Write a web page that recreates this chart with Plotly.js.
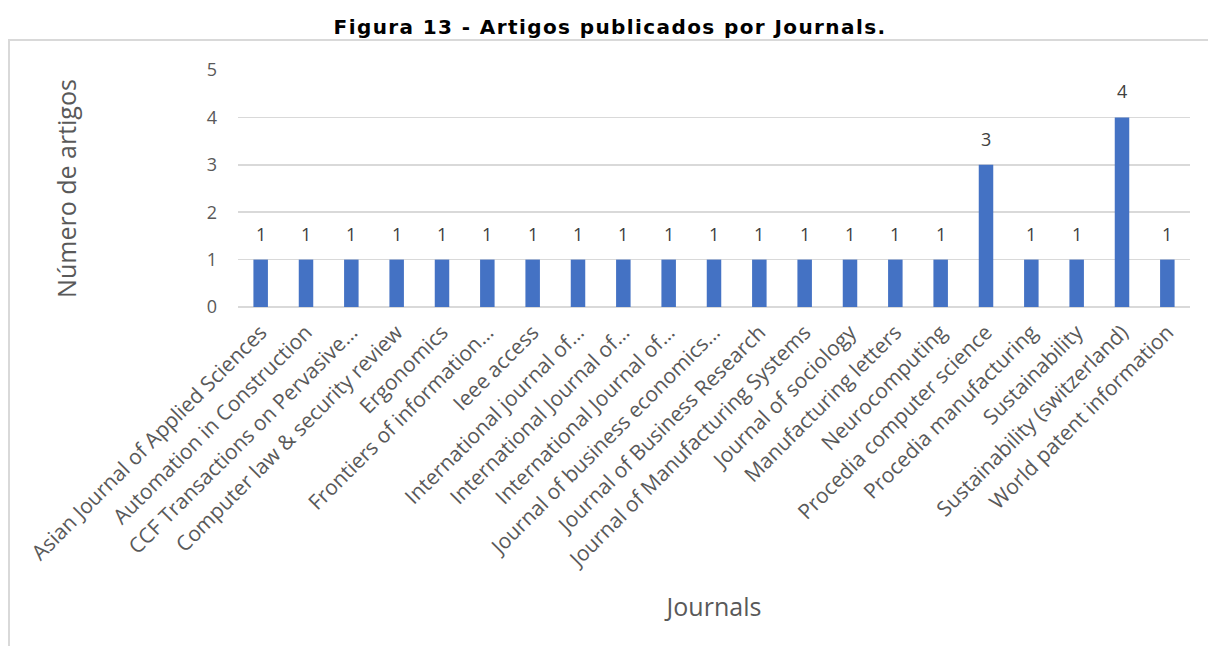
<!DOCTYPE html>
<html>
<head>
<meta charset="utf-8">
<script src="https://cdn.plot.ly/plotly-3.0.1.min.js"></script>
<style>
  html, body { margin: 0; padding: 0; background: #ffffff; }
  #wrap { position: relative; width: 1208px; height: 646px; overflow: hidden; }
  #chart { width: 1208px; height: 646px; }
  #frame { position: absolute; left: 8px; top: 39px; width: 1220px; height: 640px;
           border: 2px solid #d9d9d9; pointer-events: none; box-sizing: border-box; }
  .gtitle { letter-spacing: 1.4px; }
</style>
</head>
<body>
<div id="wrap">
  <div id="chart"></div>
  <div id="frame"></div>
</div>
<script>
const journals = [
  "Asian Journal of Applied Sciences",
  "Automation in Construction",
  "CCF Transactions on Pervasive…",
  "Computer law & security review",
  "Ergonomics",
  "Frontiers of information…",
  "Ieee access",
  "International journal of…",
  "International Journal of…",
  "International Journal of…",
  "Journal of business economics…",
  "Journal of Business Research",
  "Journal of Manufacturing Systems",
  "Journal of sociology",
  "Manufacturing letters",
  "Neurocomputing",
  "Procedia computer science",
  "Procedia manufacturing",
  "Sustainability",
  "Sustainability (switzerland)",
  "World patent information"
];
const artigos = [1, 1, 1, 1, 1, 1, 1, 1, 1, 1, 1, 1, 1, 1, 1, 1, 3, 1, 1, 4, 1];
const yTicks = [0, 1, 2, 3, 4, 5];

const positions = journals.map((_, i) => i);

const trace = {
  type: 'bar',
  x: positions,
  y: artigos,
  marker: { color: '#4472C4' },
  width: 0.32,
  hoverinfo: 'x+y'
};

const labelAnnotations = artigos.map((v, i) => ({
  x: positions[i],
  y: v,
  xref: 'x',
  yref: 'y',
  text: String(v),
  showarrow: false,
  yanchor: 'bottom',
  yshift: 12,
  font: { family: 'Open Sans, sans-serif', size: 18, color: '#404040' }
}));

const layout = {
  width: 1208,
  height: 646,
  margin: { l: 238, r: 18, t: 70, b: 339 },
  paper_bgcolor: '#ffffff',
  plot_bgcolor: '#ffffff',
  showlegend: false,
  title: {
    text: '<b>Figura 13 - Artigos publicados por Journals.</b>',
    font: { family: 'DejaVu Sans, Liberation Sans, sans-serif', size: 20, color: '#000000' },
    x: 0.505, xanchor: 'center',
    y: 0.958, yanchor: 'middle'
  },
  annotations: labelAnnotations,
  xaxis: {
    tickmode: 'array',
    tickvals: positions,
    ticktext: journals,
    tickangle: -45,
    range: [-0.5, journals.length - 0.5],
    showgrid: false,
    zeroline: false,
    showline: false,
    ticks: '',
    ticklabelstandoff: 8,
    tickfont: { family: 'Open Sans, sans-serif', size: 21, color: '#595959' },
    title: {
      text: 'Journals',
      font: { family: 'Open Sans, sans-serif', size: 25, color: '#595959' },
      standoff: 26
    },
    automargin: false
  },
  yaxis: {
    range: [0, 5],
    tickvals: yTicks,
    showgrid: true,
    gridcolor: '#d9d9d9',
    gridwidth: 1.5,
    zeroline: true,
    zerolinecolor: '#d9d9d9',
    zerolinewidth: 1.5,
    showline: false,
    ticks: '',
    ticklabelstandoff: 20,
    tickfont: { family: 'Open Sans, sans-serif', size: 18, color: '#595959' },
    title: {
      text: 'Número de artigos',
      font: { family: 'Open Sans, sans-serif', size: 25, color: '#595959' },
      standoff: 122
    },
    automargin: false
  },
  bargap: 0.68
};

Plotly.newPlot('chart', [trace], layout, { displayModeBar: false, staticPlot: true });
</script>
</body>
</html>
